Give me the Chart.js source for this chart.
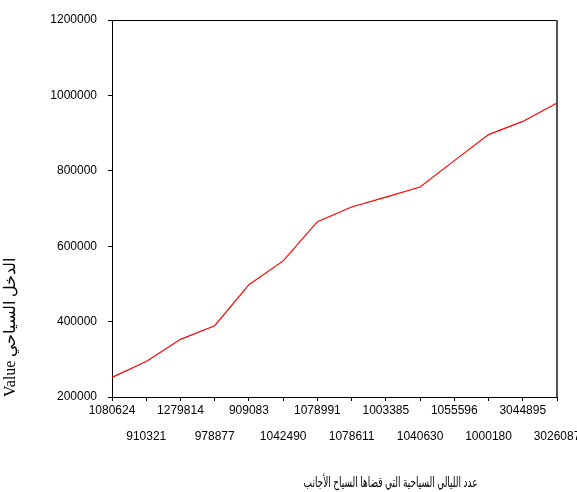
<!DOCTYPE html>
<html>
<head>
<meta charset="utf-8">
<script src="https://cdn.jsdelivr.net/npm/chart.js@4/dist/chart.umd.min.js"></script>
<style>
  html, body { margin: 0; padding: 0; background: #fff; }
  #wrap { width: 577px; height: 492px; }
</style>
</head>
<body>
<div id="wrap"><canvas id="myLineChart"></canvas></div>
<script>
// categories (nights spent) and tourism income values
var nights = ['1080624', '910321', '1279814', '978877', '909083', '1042490', '1078991',
              '1078611', '1003385', '1040630', '1055596', '1000180', '3044895', '3026087'];
var income = [252000, 294000, 353000, 389000, 498000, 561000, 665000,
              704000, 730000, 757000, 827000, 896000, 931000, 980000];
var yTicks = [200000, 400000, 600000, 800000, 1000000, 1200000];

var xTitle = 'عدد الليالي السياحية التي قضاها السياح الأجانب';
var yTitle = 'Value الدخل السياحي';

// top and right frame lines + x axis title
var frame = {
    id: 'frame',
    afterDraw: function (c) {
        var a = c.chartArea, ctx = c.ctx;
        ctx.save();
        ctx.strokeStyle = '#000';
        ctx.lineWidth = 1;
        ctx.beginPath();
        ctx.moveTo(a.left, a.top + 0.5);
        ctx.lineTo(a.right, a.top + 0.5);
        ctx.stroke();
        ctx.strokeStyle = '#555';
        ctx.lineWidth = 2;
        ctx.beginPath();
        ctx.moveTo(a.right, a.top);
        ctx.lineTo(a.right, a.bottom);
        ctx.stroke();
        ctx.fillStyle = '#000';
        ctx.font = '14px "Liberation Sans", "DejaVu Sans", sans-serif';
        ctx.textAlign = 'center';
        ctx.textBaseline = 'middle';
        ctx.fillText(xTitle, a.left + (a.right - a.left) * 0.626, a.bottom + 86, 174);
        ctx.restore();
    }
};

var chart = document.getElementById('myLineChart').getContext('2d');
var myChart = new Chart(chart, {
    type: 'line',
    data: {
        labels: nights,
        datasets: [{
            data: income,
            borderColor: '#ff0000',
            borderWidth: 1.2,
            pointRadius: 0,
            tension: 0,
            fill: false
        }]
    },
    options: {
        responsive: true,
        maintainAspectRatio: false,
        animation: false,
        layout: { padding: { top: 20, right: 20, left: 0, bottom: 0 } },
        plugins: {
            legend: { display: false },
            tooltip: { enabled: false }
        },
        scales: {
            x: {
                offset: false,
                grid: { drawOnChartArea: false, tickLength: 4, color: '#000' },
                border: { color: '#000', width: 1 },
                ticks: {
                    autoSkip: false,
                    maxRotation: 0,
                    minRotation: 0,
                    padding: -3,
                    color: '#000',
                    font: { family: '"Liberation Sans", Arial, sans-serif', size: 12, lineHeight: '26px' },
                    callback: function (value, index) {
                        var lab = this.getLabelForValue(value);
                        return index % 2 ? ['', lab] : lab;
                    }
                },
                afterFit: function (s) {
                    s.height = 95;
                    s.paddingLeft = 0;
                    s.paddingRight = 0;
                }
            },
            y: {
                min: yTicks[0],
                max: yTicks[yTicks.length - 1],
                afterBuildTicks: function (s) {
                    s.ticks = yTicks.map(function (v) { return { value: v }; });
                },
                grid: { drawOnChartArea: false, tickLength: 4, color: '#000' },
                border: { color: '#000', width: 1 },
                ticks: {
                    padding: 11,
                    color: '#000',
                    font: { family: '"Liberation Sans", Arial, sans-serif', size: 12 },
                    callback: function (v) { return String(v); }
                },
                title: {
                    display: true,
                    text: yTitle + ' ',
                    align: 'start',
                    color: '#000',
                    padding: { top: 1, bottom: 0 },
                    font: { family: '"Liberation Serif", "DejaVu Serif", serif', size: 16 }
                },
                afterFit: function (s) {
                    s.width = 112;
                    s.paddingTop = 0;
                    s.paddingBottom = 0;
                }
            }
        }
    },
    plugins: [frame]
});
</script>
</body>
</html>
